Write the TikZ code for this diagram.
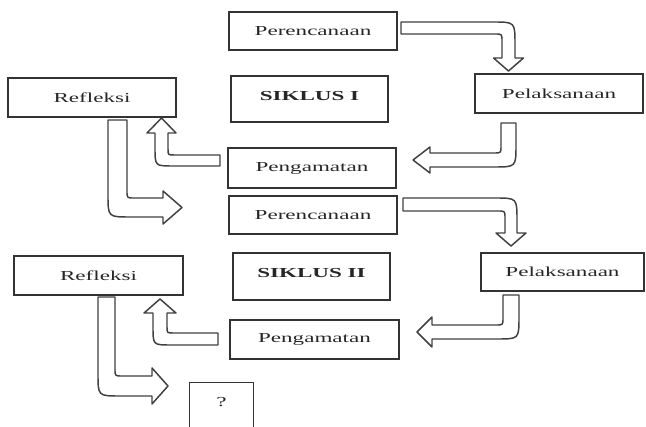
\documentclass[tikz,border=0pt]{standalone}
\usepackage{fontspec}
\usepackage{graphicx}
\setmainfont{Liberation Serif}
\newcommand\widetxt[1]{\scalebox{1.68}[1]{#1}}
\begin{document}
\begin{tikzpicture}[x=0.75pt,y=-0.75pt,
  box/.style={draw=black!80,line width=1pt,inner sep=0pt,text=black!85,
    font=\fontsize{10.3pt}{12pt}\selectfont},
  bigbox/.style={box,font=\fontsize{10.3pt}{12pt}\selectfont\bfseries},
  arr/.style={draw=black!75,line width=1.1pt,line join=round,fill=white}]
\useasboundingbox (0,0) rectangle (646,427);
% boxes
\node[box,minimum width=126pt,minimum height=28.5pt] (p1) at (313,31) {\widetxt{Perencanaan}};
\node[bigbox,minimum width=117.75pt,minimum height=34.5pt] (s1) at (309.5,99) {\raisebox{4pt}{\widetxt{SIKLUS I}}};
\node[box,minimum width=126pt,minimum height=29.25pt] (l1) at (559,93.5) {\widetxt{Pelaksanaan}};
\node[box,minimum width=126pt,minimum height=29.25pt] (r1) at (92,97.5) {\widetxt{Refleksi}};
\node[box,minimum width=126pt,minimum height=30pt] (g1) at (312,168) {\raisebox{1.5pt}{\widetxt{Pengamatan}}};
\node[box,minimum width=126pt,minimum height=28.5pt] (p2) at (313,215) {\widetxt{Perencanaan}};
\node[box,minimum width=126.75pt,minimum height=29.25pt] (r2) at (98.5,275.5) {\widetxt{Refleksi}};
\node[bigbox,minimum width=117.75pt,minimum height=35.25pt] (s2) at (311.5,276.5) {\raisebox{5pt}{\widetxt{SIKLUS II}}};
\node[box,minimum width=122.25pt,minimum height=28.5pt] (l2) at (562.5,272) {\widetxt{Pelaksanaan}};
\node[box,minimum width=126.75pt,minimum height=29.25pt] (g2) at (314.5,339.5) {\widetxt{Pengamatan}};
\node[box,draw=none,minimum width=47.25pt,minimum height=33pt] (q) at (221.5,405) {\raisebox{5pt}{\widetxt{?}}};
\draw[draw=black!80,line width=1pt] (q.south west) -- (q.north west) -- (q.north east) -- (q.south east);
% block arrows
\draw[arr] (401,22) -- (493,22) .. controls (515,22) .. (515,44) -- (515,58) -- (523.5,58) -- (508.5,71) -- (493.5,58) -- (502,58) -- (502,41) .. controls (502,34) .. (495,34) -- (401,34) -- cycle;
\draw[arr] (501,123) -- (516,123) -- (516,145) .. controls (516,167) .. (494,167) -- (430,167) -- (430,173) -- (413,160) -- (430,147) -- (430,153) -- (494,153) .. controls (501,153) .. (501,146) -- cycle;
\draw[arr] (220,155) -- (220,166) -- (173,166) .. controls (155,166) .. (155,148) -- (155,133) -- (147,133) -- (161.5,118) -- (176,133) -- (168,133) -- (168,149) .. controls (168,155) .. (174,155) -- cycle;
\draw[arr] (108,120) -- (127,120) -- (127,191) .. controls (127,198) .. (134,198) -- (163,198) -- (163,191) -- (182,207.5) -- (163,224) -- (163,217) -- (130,217) .. controls (108,217) .. (108,195) -- cycle;
\draw[arr] (403,198) -- (495,198) .. controls (517,198) .. (517,220) -- (517,233) -- (526,233) -- (511,246) -- (496,233) -- (505,233) -- (505,218) .. controls (505,211) .. (498,211) -- (403,211) -- cycle;
\draw[arr] (503,295) -- (519,295) -- (519,317) .. controls (519,339) .. (497,339) -- (432,339) -- (432,347) -- (417,332) -- (432,317) -- (432,325) -- (496,325) .. controls (503,325) .. (503,318) -- cycle;
\draw[arr] (218,333) -- (218,345) -- (171,345) .. controls (153,345) .. (153,327) -- (153,313) -- (144,313) -- (160,299) -- (176,313) -- (167,313) -- (167,327) .. controls (167,333) .. (173,333) -- cycle;
\draw[arr] (98,297) -- (115,297) -- (115,369) .. controls (115,376) .. (122,376) -- (152,376) -- (152,368) -- (168,386) -- (152,404) -- (152,396) -- (120,396) .. controls (98,396) .. (98,374) -- cycle;
\end{tikzpicture}
\end{document}
